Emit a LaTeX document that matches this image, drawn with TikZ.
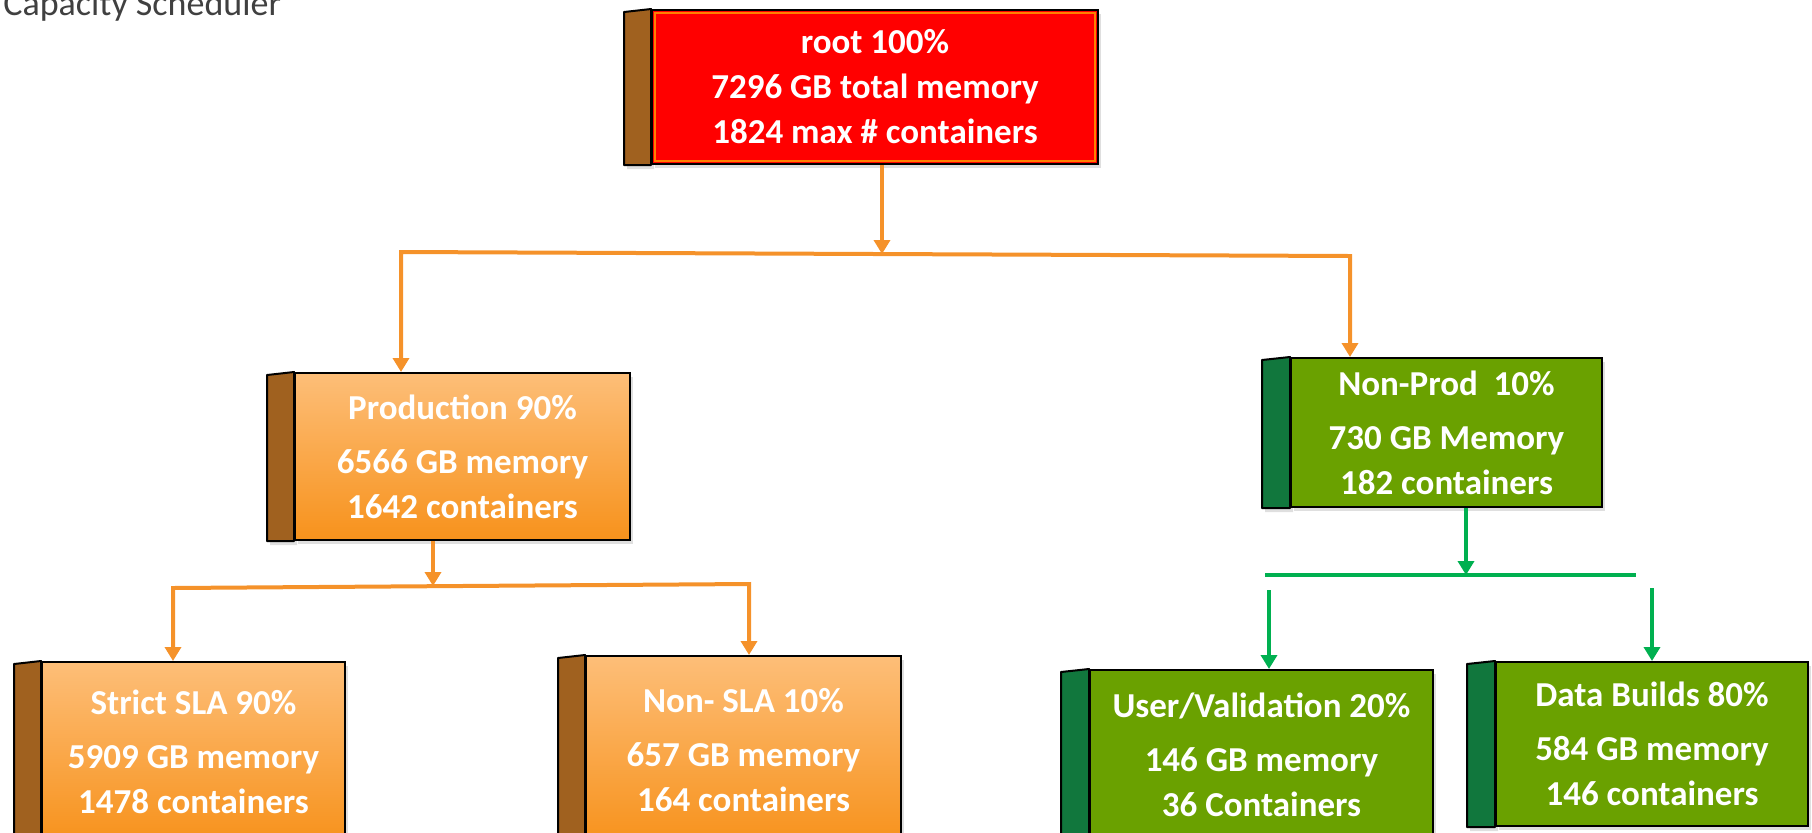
\documentclass[tikz,border=0pt]{standalone}
\usepackage{fontspec}
\setmainfont{Carlito}
\usetikzlibrary{arrows.meta,backgrounds,shadows}
\definecolor{rootred}{HTML}{FF0000}
\definecolor{brownside}{HTML}{A0611F}
\definecolor{orgtop}{HTML}{FDBE78}
\definecolor{orgbot}{HTML}{F7921C}
\definecolor{grnface}{HTML}{6AA100}
\definecolor{grnside}{HTML}{11773D}
\definecolor{orgline}{HTML}{F5922A}
\definecolor{grnline}{HTML}{00B050}
\definecolor{titlegray}{HTML}{404040}
\begin{document}
\begin{tikzpicture}[x=0.5pt,y=-0.5pt,
  face/.style={draw=black, line width=1pt, text=white, align=center, inner sep=0pt,
    font=\bfseries\fontsize{17.5}{22.5}\selectfont,
    drop shadow={shadow xshift=1.5pt, shadow yshift=-2pt, opacity=0.25}},
  redface/.style={face, fill=rootred},
  orgface/.style={face, top color=orgtop, bottom color=orgbot},
  grnface/.style={face, fill=grnface},
  side/.style={draw=black, line width=1pt, line join=round,
    drop shadow={shadow xshift=1.5pt, shadow yshift=-2pt, opacity=0.25}},
  brownsidestyle/.style={side, fill=brownside},
  greensidestyle/.style={side, fill=grnside},
  oline/.style={draw=orgline, line width=2pt},
  gline/.style={draw=grnline, line width=2.2pt},
  otip/.tip={Triangle[width=8pt,length=7pt]},
  oarrow/.style={oline, -otip},
  garrow/.style={gline, -otip},
  oboth/.style={oline, line join=miter, otip-otip}
]
\useasboundingbox (0,0) rectangle (1812,832);

\node[anchor=base west, text=titlegray, inner sep=0pt, font=\fontsize{18}{21}\selectfont] (title) at (3,15) {Capacity Scheduler};

\node[redface, minimum width=223pt, minimum height=77pt] (root) at (875,87)
  {root 100\%\\7296 GB total memory\\1824 max \# containers};
\draw[orange, line width=0.6pt] ([xshift=2pt,yshift=-2pt]root.north west) rectangle ([xshift=-2pt,yshift=2pt]root.south east);

\node[orgface, minimum width=167.5pt, minimum height=83.5pt] (prod) at (462.5,456.5)
  {Production 90\%\\[4.5pt]6566 GB memory\\1642 containers};
\node[grnface, minimum width=155.5pt, minimum height=74.5pt] (nonprod) at (1446.5,432.5)
  {Non-Prod~~10\%\\[4.5pt]730 GB Memory\\182 containers};
\node[orgface, minimum width=151.5pt, minimum height=90pt] (strict) at (193.5,752)
  {Strict SLA 90\%\\[4.5pt]5909 GB memory\\1478 containers};
\node[orgface, minimum width=157.5pt, minimum height=94pt] (nonsla) at (743.5,750)
  {Non- SLA 10\%\\[4.5pt]657 GB memory\\164 containers};
\node[grnface, minimum width=171.5pt, minimum height=85pt] (user) at (1261.5,755)
  {User/Validation 20\%\\[4.5pt]146 GB memory\\36 Containers};
\node[grnface, minimum width=156pt, minimum height=82pt] (data) at (1652,744)
  {Data Builds 80\%\\[4.5pt]584 GB memory\\146 containers};

\begin{scope}[on background layer]
  \foreach \n in {root,prod,strict,nonsla}
    \path[brownsidestyle] ([xshift=-13.5pt,yshift=-1.5pt]\n.north west) -- (\n.north west) -- (\n.south west) -- ([xshift=-13.5pt]\n.south west) -- cycle;
  \foreach \n in {nonprod,user,data}
    \path[greensidestyle] ([xshift=-14pt,yshift=-1.5pt]\n.north west) -- (\n.north west) -- (\n.south west) -- ([xshift=-14pt]\n.south west) -- cycle;
\end{scope}

% orange connectors from root
\coordinate (j1) at (882,254);
\coordinate (hl) at (401,252);
\coordinate (hr) at (1350,256);
\draw[oarrow] (j1 |- root.south) -- (j1);
\draw[oboth] (hl |- prod.north) -- (hl) -- (hr) -- (hr |- nonprod.north);

% orange connectors from production
\coordinate (j2) at (433,586);
\coordinate (l2) at (173,588);
\coordinate (r2) at (749,584);
\draw[oarrow] (j2 |- prod.south) -- (j2);
\draw[oboth] (l2 |- strict.north) -- (l2) -- (r2) -- (r2 |- nonsla.north);

% green connectors from non-prod
\coordinate (j3) at (1466,575);
\coordinate (gl) at (1265,575);
\coordinate (gr) at (1636,575);
\coordinate (gd1) at (1269,590);
\coordinate (gd2) at (1652,588);
\draw[garrow] (j3 |- nonprod.south) -- (j3);
\draw[gline] (gl) -- (gr);
\draw[garrow] (gd1) -- (gd1 |- user.north);
\draw[garrow] (gd2) -- (gd2 |- data.north);
\end{tikzpicture}
\end{document}
